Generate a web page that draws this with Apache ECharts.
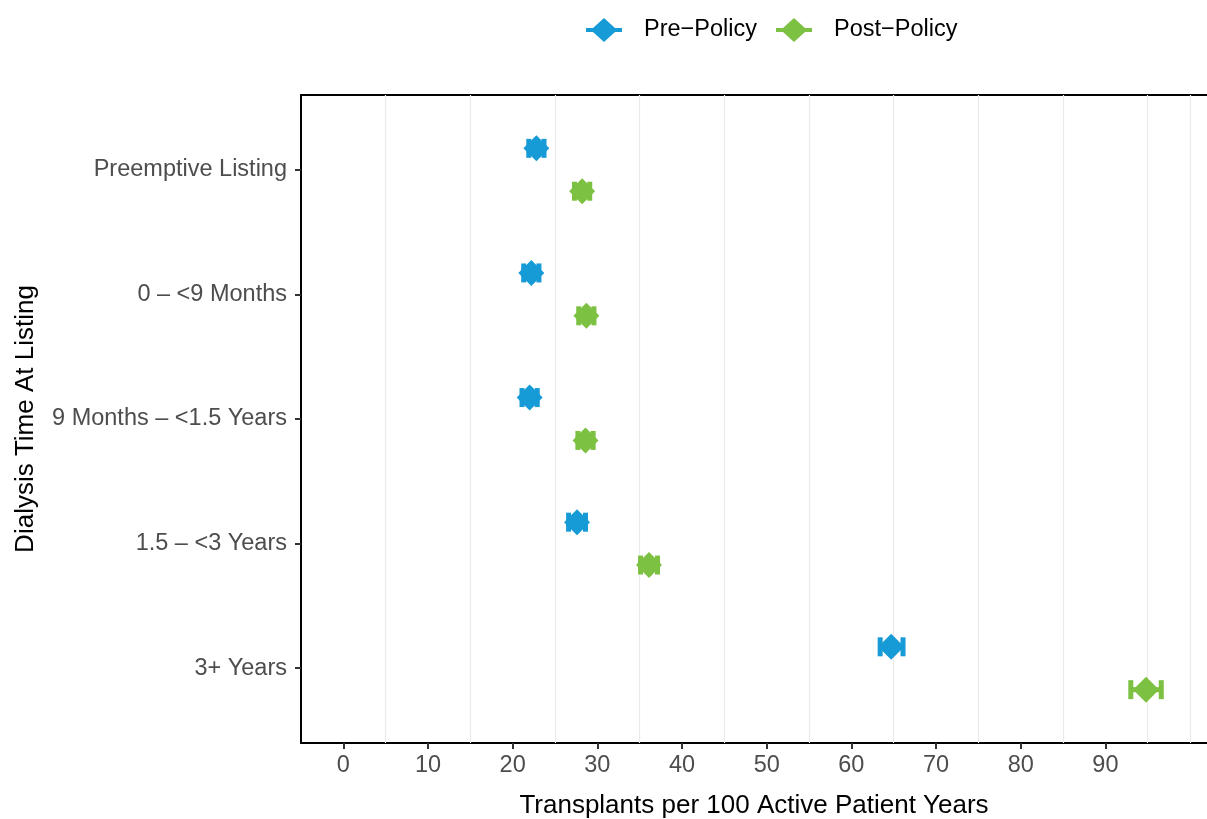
<!DOCTYPE html>
<html>
<head>
<meta charset="utf-8">
<script src="https://cdn.jsdelivr.net/npm/echarts@6/dist/echarts.min.js"></script>
<style>
  html, body { margin: 0; padding: 0; background: #fff; }
  #chart { width: 1207px; height: 819px; }
</style>
</head>
<body>
<div id="chart"></div>
<script>
// categories, top to bottom
var categories = ['Preemptive Listing', '0 \u2013 <9 Months', '9 Months \u2013 <1.5 Years', '1.5 \u2013 <3 Years', '3+ Years'];
var seriesNames = ['Pre\u2212Policy', 'Post\u2212Policy'];
// rate per 100 active patient years, with lower / upper CI
var preRate = [22.8, 22.2, 22.0, 27.6, 64.7];
var preLow  = [21.9, 21.3, 21.1, 26.6, 63.4];
var preHigh = [23.7, 23.1, 22.9, 28.6, 66.1];
var postRate = [28.2, 28.7, 28.6, 36.1, 94.8];
var postLow  = [27.3, 27.8, 27.7, 35.1, 93.0];
var postHigh = [29.1, 29.6, 29.5, 37.1, 96.6];
var xTicks = [0, 10, 20, 30, 40, 50, 60, 70, 80, 90];
var gridLines = [5, 15, 25, 35, 45, 55, 65, 75, 85, 95, 100];

var colors = ['#179BD7', '#7DC142'];
var dodge = 0.172;
var font = 'Liberation Sans, Arial, sans-serif';

function buildData(rate, lo, hi, off) {
  var out = [];
  for (var i = 0; i < rate.length; i++) {
    out.push([rate[i], i + 1 + off, lo[i], hi[i]]);
  }
  return out;
}

function renderPoint(params, api) {
  var y = api.value(1);
  var p = api.coord([api.value(0), y]);
  var l = api.coord([api.value(2), y]);
  var h = api.coord([api.value(3), y]);
  var c = api.visual('color');
  var capH = 9.5, d = 13;
  var lineStyle = { stroke: c, lineWidth: 5, fill: null };
  return {
    type: 'group',
    children: [
      { type: 'line', shape: { x1: l[0], y1: l[1], x2: h[0], y2: h[1] }, style: lineStyle },
      { type: 'line', shape: { x1: l[0], y1: l[1] - capH, x2: l[0], y2: l[1] + capH }, style: lineStyle },
      { type: 'line', shape: { x1: h[0], y1: h[1] - capH, x2: h[0], y2: h[1] + capH }, style: lineStyle },
      { type: 'polygon', shape: { points: [[p[0], p[1] - d], [p[0] + d, p[1]], [p[0], p[1] + d], [p[0] - d, p[1]]] },
        style: { fill: c } }
    ]
  };
}

var legendIcon = 'path://M0,10 L7,10 L18,0 L29,10 L36,10 L36,14 L29,14 L18,24 L7,14 L0,14 Z';

var chart = echarts.init(document.getElementById('chart'));
var option = {
  animation: false,
  backgroundColor: '#fff',
  textStyle: { fontFamily: font },
  legend: {
    top: 13,
    left: 581,
    itemWidth: 36,
    itemHeight: 24,
    itemGap: 19,
    textStyle: { fontSize: 23.5, color: '#000', fontFamily: font, padding: [0, 0, 0, 17] },
    data: [
      { name: seriesNames[0], icon: legendIcon },
      { name: seriesNames[1], icon: legendIcon }
    ]
  },
  grid: {
    left: 301, right: 0, top: 95, bottom: 76,
    outerBoundsMode: 'none'
  },
  xAxis: [{
    type: 'value',
    min: -5, max: 102,
    name: 'Transplants per 100 Active Patient Years',
    nameLocation: 'middle',
    nameGap: 50,
    nameTextStyle: { fontSize: 26, color: '#000', fontFamily: font },
    axisLine: { show: true, onZero: false, lineStyle: { color: '#000', width: 2 } },
    axisTick: { show: true, length: 6, lineStyle: { color: '#333', width: 2 }, customValues: xTicks },
    axisLabel: { color: '#4D4D4D', fontSize: 23.5, margin: 11, fontFamily: font, customValues: xTicks },
    splitLine: { show: false }
  }, {
    type: 'value',
    position: 'top',
    min: -5, max: 102,
    axisLine: { show: true, onZero: false, lineStyle: { color: '#000', width: 2 } },
    axisTick: { show: false },
    axisLabel: { show: false },
    splitLine: { show: false }
  }],
  yAxis: {
    type: 'value',
    min: 0.4, max: 5.6,
    inverse: true,
    name: 'Dialysis Time At Listing',
    nameLocation: 'middle',
    nameRotate: 90,
    nameGap: 262,
    nameTextStyle: { fontSize: 26, color: '#000', fontFamily: font },
    axisLine: { show: true, onZero: false, lineStyle: { color: '#000', width: 2 } },
    axisTick: { show: true, length: 6, lineStyle: { color: '#333', width: 2 }, customValues: [1, 2, 3, 4, 5] },
    axisLabel: {
      color: '#4D4D4D', fontSize: 23.5, margin: 14, fontFamily: font,
      customValues: [1, 2, 3, 4, 5],
      formatter: function (v) { return categories[Math.round(v) - 1]; }
    },
    splitLine: { show: false }
  },
  series: [
    {
      name: seriesNames[0],
      type: 'custom',
      itemStyle: { color: colors[0] },
      renderItem: renderPoint,
      encode: { x: [0, 2, 3], y: 1 },
      data: buildData(preRate, preLow, preHigh, -dodge),
      z: 3,
      markLine: {
        silent: true,
        symbol: 'none',
        label: { show: false },
        lineStyle: { color: '#EBEBEB', width: 1.2, type: 'solid' },
        data: gridLines.map(function (v) { return { xAxis: v }; }),
        z: 1
      }
    },
    {
      name: seriesNames[1],
      type: 'custom',
      itemStyle: { color: colors[1] },
      renderItem: renderPoint,
      encode: { x: [0, 2, 3], y: 1 },
      data: buildData(postRate, postLow, postHigh, dodge),
      z: 3
    }
  ]
};
chart.setOption(option);
</script>
</body>
</html>
